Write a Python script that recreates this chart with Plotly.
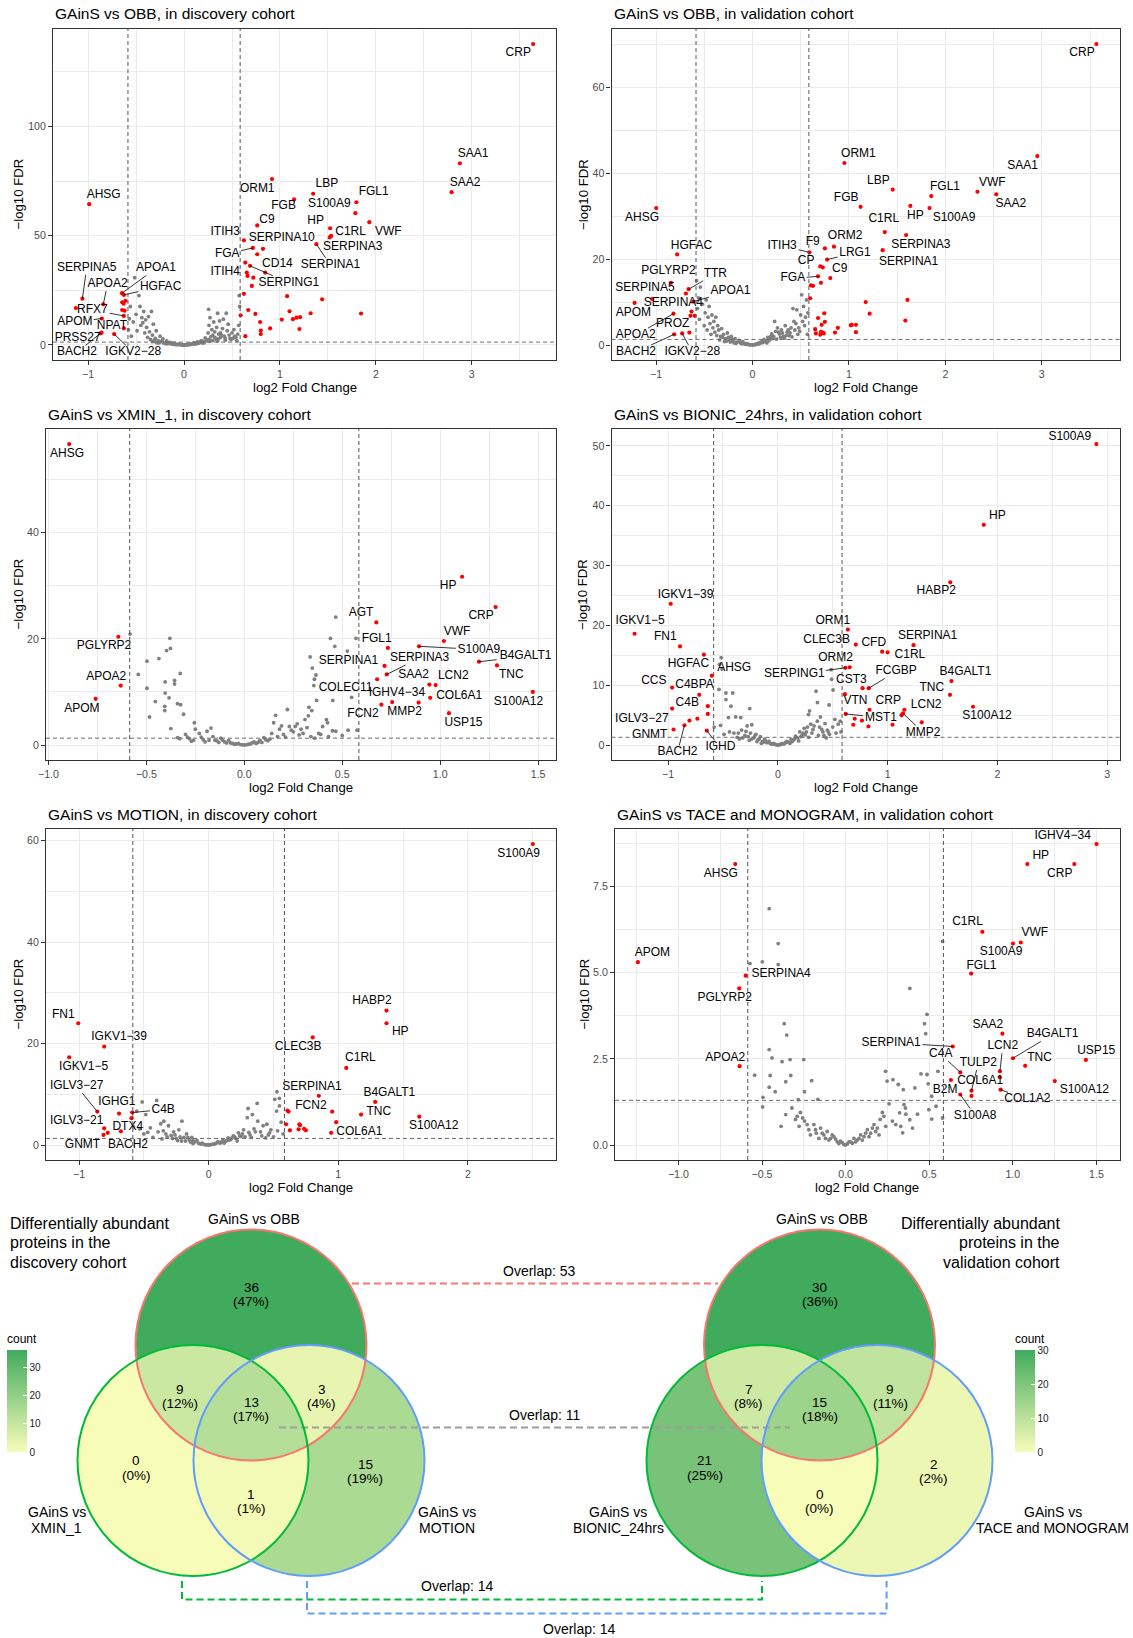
import numpy as np
import plotly.graph_objects as go

W, H = 1133, 1638
FONT = "Liberation Sans, Arial, Helvetica, sans-serif"
FC_CUT = 0.585      # log2(1.5)
FDR_CUT = 1.301     # -log10(0.05)

# ----------------------------------------------------------------- data
P1_TITLE = "GAinS vs OBB, in discovery cohort"
P1_GRAY = [(-0.58, 7.0), (-0.57, 12.0), (-0.56, 17.6), (-0.55, 4.0), (-0.53, 10.5), (-0.515, 30.8), (-0.50, 14.0),
           (-0.49, 6.5), (-0.47, 22.6), (-0.46, 17.6), (-0.45, 9.0), (-0.44, 12.5), (-0.43, 10.2), (-0.42, 15.3),
           (-0.41, 5.5), (-0.40, 11.5), (-0.39, 8.0), (-0.38, 3.5), (-0.37, 13.0), (-0.36, 6.0), (-0.35, 2.5),
           (-0.34, 15.3), (-0.33, 4.5), (-0.32, 9.5), (-0.30, 3.0), (-0.29, 6.5), (-0.27, 2.0), (-0.25, 4.0),
           (-0.24, 1.5), (-0.22, 2.8), (-0.20, 1.0), (-0.18, 1.8), (-0.16, 0.7), (-0.14, 1.2), (-0.12, 0.5),
           (-0.10, 0.8), (-0.08, 0.3), (-0.06, 0.4), (-0.04, 0.15), (-0.02, 0.05), (0.00, 0.0), (0.02, 0.1),
           (0.04, 0.2), (0.06, 0.5), (0.08, 0.4), (0.10, 0.9), (0.12, 0.7), (0.14, 1.4), (0.16, 1.1), (0.18, 2.0),
           (0.20, 1.6), (0.22, 3.2), (0.24, 2.4), (0.25, 5.5), (0.256, 16.3), (0.26, 9.0), (0.27, 12.5), (0.28, 3.8),
           (0.29, 7.0), (0.30, 4.5), (0.31, 10.5), (0.32, 6.0), (0.33, 3.0), (0.34, 8.0), (0.35, 14.5), (0.36, 5.0),
           (0.37, 11.0), (0.38, 3.5), (0.40, 7.5), (0.41, 11.8), (0.42, 4.0), (0.44, 14.5), (0.45, 6.5), (0.46, 9.5),
           (0.48, 3.0), (0.50, 5.5), (0.52, 7.0), (0.54, 3.5), (0.56, 5.0), (0.57, 9.0), (0.575, 22.6), (0.58, 17.6),
           (-0.28, 1.0), (-0.19, 0.6), (-0.11, 0.3), (0.11, 0.4), (0.19, 0.9), (0.27, 1.6), (0.35, 1.8), (0.43, 2.2),
           (-0.33, 1.5), (-0.31, 2.2), (-0.29, 1.2), (-0.26, 1.0), (-0.23, 1.8), (-0.21, 0.8), (-0.17, 0.5),
           (-0.15, 1.0), (-0.13, 0.4), (-0.09, 0.2), (-0.07, 0.15), (-0.05, 0.3), (-0.03, 0.05), (-0.01, 0.02),
           (0.01, 0.03), (0.03, 0.05), (0.05, 0.15), (0.07, 0.2), (0.09, 0.6), (0.13, 0.5), (0.15, 0.8),
           (0.17, 1.5), (0.21, 1.0), (0.23, 1.9), (0.26, 2.5), (0.28, 2.0), (0.30, 2.0), (0.32, 3.5), (0.34, 2.5),
           (0.36, 2.8), (0.38, 5.5), (0.39, 4.5), (0.43, 3.0), (0.47, 4.5), (0.49, 2.5), (0.51, 3.0), (0.53, 4.0),
           (0.55, 2.0)]
P1_RED = [(3.64, 137.7), (2.876, 83.1), (2.79, 69.9), (0.917, 75.9), (1.346, 69.2), (1.147, 66.6), (1.797, 65.3),
          (1.786, 60.3), (0.763, 54.7), (1.932, 56.2), (1.523, 53.4), (1.534, 49.9), (1.519, 49.2), (0.624, 47.9),
          (0.823, 44.0), (0.718, 44.4), (0.763, 41.5), (1.38, 46.1), (0.639, 37.7), (0.688, 36.2), (0.654, 33.1),
          (0.662, 31.6), (0.846, 33.1), (0.722, 30.8), (0.707, 27.0), (0.624, 23.4), (1.075, 22.3), (1.44, 20.9),
          (0.59, 13.6), (0.669, 16.0), (0.744, 14.2), (1.10, 15.4), (1.32, 14.5), (1.846, 14.4), (0.793, 10.5),
          (1.019, 11.6), (1.135, 11.8), (1.173, 12.5), (1.21, 12.7), (1.203, 7.3), (0.898, 7.6), (0.80, 6.6),
          (0.80, 5.0), (0.639, 4.0), (-0.989, 64.4), (-1.06, 21.2), (-1.128, 16.9), (-0.842, 18.6), (-0.647, 23.7),
          (-0.628, 22.9), (-0.61, 20.2), (-0.645, 19.5), (-0.63, 18.9), (-0.645, 16.0), (-0.62, 15.7),
          (-0.628, 13.3), (-0.857, 12.1), (-0.872, 5.3), (-0.86, 5.6), (-0.729, 5.0), (-0.628, 7.6)]
P1_LABELS = [("CRP", 3.485, 133.6), ("SAA1", 3.015, 87.2), ("SAA2", 2.93, 74.0), ("ORM1", 0.763, 71.5),
             ("LBP", 1.489, 73.6), ("FGB", 1.038, 63.4), ("FGL1", 1.977, 69.8), ("S100A9", 1.515, 64.7),
             ("C9", 0.865, 57.3), ("HP", 1.372, 56.9), ("C1RL", 1.737, 51.9), ("VWF", 2.13, 51.9),
             ("ITIH3", 0.429, 51.9), ("SERPINA10", 1.019, 49.0), ("FGA", 0.451, 41.7), ("SERPINA3", 1.759, 44.7),
             ("SERPINA1", 1.526, 36.6), ("CD14", 0.974, 36.9), ("ITIH4", 0.429, 33.6), ("SERPING1", 1.094, 28.5),
             ("AHSG", -0.838, 68.4), ("SERPINA5", -1.015, 35.4), ("APOA1", -0.293, 35.0), ("APOA2", -0.797, 27.9),
             ("HGFAC", -0.244, 26.7), ("RFX7", -0.955, 16.0), ("APOM", -1.139, 10.5), ("NPAT", -0.752, 8.7),
             ("PRSS27", -1.109, 3.4), ("BACH2", -1.117, -3.4), ("IGKV2−28", -0.53, -3.4)]
P1_SEGS = {"FGA": (0.718, 44.4), "SERPINA1": (1.38, 46.1), "SERPING1": (0.688, 36.2), "SERPINA5": (-1.06, 21.2),
           "APOA1": (-0.647, 23.7), "APOA2": (-0.842, 18.6), "HGFAC": (-0.628, 22.9), "RFX7": (-0.628, 13.3),
           "APOM": (-0.857, 12.1), "BACH2": (-0.872, 5.3), "IGKV2−28": (-0.729, 5.0)}

P2_TITLE = "GAinS vs OBB, in validation cohort"
P2_GRAY = [(-0.58, 15.0), (-0.57, 8.5), (-0.56, 11.0), (-0.55, 6.0), (-0.54, 13.5), (-0.52, 9.5), (-0.50, 4.5),
           (-0.49, 7.5), (-0.48, 10.5), (-0.47, 3.5), (-0.46, 6.5), (-0.45, 9.0), (-0.44, 5.0), (-0.43, 2.5),
           (-0.42, 7.0), (-0.41, 4.0), (-0.40, 5.5), (-0.39, 3.0), (-0.38, 6.5), (-0.37, 2.2), (-0.36, 4.5),
           (-0.35, 3.5), (-0.33, 2.0), (-0.32, 3.8), (-0.30, 2.5), (-0.28, 1.5), (-0.26, 2.8), (-0.24, 1.2),
           (-0.22, 2.0), (-0.20, 0.9), (-0.18, 1.5), (-0.16, 0.7), (-0.14, 1.1), (-0.12, 0.5), (-0.10, 0.8),
           (-0.08, 0.3), (-0.06, 0.35), (-0.04, 0.15), (-0.02, 0.05), (0.00, 0.02), (0.02, 0.1), (0.04, 0.25),
           (0.06, 0.45), (0.08, 0.6), (0.10, 0.9), (0.12, 1.3), (0.14, 0.9), (0.16, 1.8), (0.18, 1.3), (0.20, 2.6),
           (0.22, 2.0), (0.23, 5.5), (0.24, 3.2), (0.26, 4.0), (0.28, 2.6), (0.30, 3.5), (0.32, 2.0), (0.34, 4.5),
           (0.36, 3.0), (0.38, 2.2), (0.40, 4.0), (0.42, 8.5), (0.43, 5.5), (0.44, 3.5), (0.45, 5.0), (0.46, 8.2),
           (0.48, 4.0), (0.50, 7.0), (0.51, 11.7), (0.52, 5.5), (0.53, 9.0), (0.54, 4.5), (0.55, 6.5), (0.56, 10.5),
           (0.57, 2.5), (0.575, 7.5), (-0.27, 0.9), (-0.19, 0.5), (0.15, 0.5), (0.25, 1.4), (0.33, 1.6), (0.41, 1.9),
           (-0.34, 1.2), (-0.31, 1.8), (-0.29, 0.8), (-0.25, 1.8), (-0.23, 0.7), (-0.21, 1.3), (-0.17, 0.4),
           (-0.13, 0.7), (-0.11, 0.3), (-0.07, 0.15), (-0.05, 0.2), (-0.03, 0.05), (0.01, 0.03), (0.03, 0.08),
           (0.05, 0.2), (0.07, 0.3), (0.09, 0.5), (0.11, 0.6), (0.13, 0.9), (0.17, 1.0), (0.19, 2.0), (0.21, 1.5),
           (0.27, 3.0), (0.29, 1.8), (0.31, 2.8), (0.35, 2.2), (0.37, 3.5), (0.39, 2.8), (0.47, 2.5), (0.49, 3.2)]
P2_RED = [(3.566, 70.1), (2.953, 44.0), (0.953, 42.4), (1.454, 36.2), (2.333, 35.7), (2.527, 35.1), (1.854, 34.7),
          (1.637, 32.4), (1.836, 31.9), (1.121, 32.2), (-0.998, 31.9), (1.372, 26.3), (1.593, 25.6), (0.845, 22.9),
          (0.751, 22.5), (1.35, 22.1), (0.591, 21.6), (-0.781, 21.1), (0.774, 19.9), (0.703, 18.3), (0.729, 18.1),
          (0.807, 15.6), (0.68, 16.0), (0.606, 13.9), (0.628, 13.8), (0.71, 14.5), (-0.845, 14.5), (-0.662, 13.0),
          (-0.69, 12.0), (-1.039, 10.7), (-1.222, 9.8), (0.598, 10.9), (-0.613, 10.1), (1.174, 10.0), (1.607, 10.5),
          (-0.632, 7.8), (-0.819, 7.3), (-0.643, 6.8), (-0.60, 6.8), (0.744, 7.4), (1.215, 7.3), (0.68, 6.3),
          (1.585, 5.7), (0.751, 5.4), (0.718, 4.7), (1.03, 4.7), (1.02, 4.6), (1.073, 4.7), (0.886, 4.0),
          (0.65, 3.7), (0.71, 3.1), (0.729, 2.9), (0.74, 2.7), (0.658, 2.7), (0.703, 2.4), (0.856, 2.9),
          (1.073, 3.0), (-0.811, 2.5), (-0.729, 2.7), (-0.654, 2.9)]
P2_LABELS = [("CRP", 3.417, 68.0), ("SAA1", 2.80, 41.8), ("ORM1", 1.099, 44.5), ("LBP", 1.305, 38.2),
             ("VWF", 2.486, 37.8), ("SAA2", 2.68, 32.9), ("FGL1", 1.996, 36.8), ("HP", 1.69, 30.1),
             ("S100A9", 2.09, 29.6), ("FGB", 0.972, 34.3), ("AHSG", -1.144, 29.7), ("C1RL", 1.361, 29.4),
             ("SERPINA3", 1.746, 23.3), ("ORM2", 0.961, 25.4), ("SERPINA1", 1.619, 19.4), ("F9", 0.624, 23.9),
             ("ITIH3", 0.307, 23.1), ("LRG1", 1.062, 21.5), ("CP", 0.557, 19.5), ("C9", 0.905, 17.8),
             ("FGA", 0.419, 15.5), ("HGFAC", -0.632, 23.1), ("PGLYRP2", -0.871, 17.3), ("TTR", -0.385, 16.6),
             ("SERPINA5", -1.114, 13.4), ("APOA1", -0.228, 12.6), ("SERPINA4", -0.82, 9.8), ("APOM", -1.234, 7.5),
             ("PROZ", -0.826, 4.8), ("APOA2", -1.211, 2.3), ("BACH2", -1.207, -1.6), ("IGKV2−28", -0.624, -1.6)]
P2_SEGS = {"ITIH3": (0.591, 21.6), "LRG1": (0.774, 19.9), "FGA": (0.68, 16.0), "TTR": (-0.662, 13.0),
           "APOA1": (-0.613, 10.1), "APOA2": (-0.819, 7.3), "BACH2": (-0.811, 2.5), "IGKV2−28": (-0.729, 2.7)}

P3_TITLE = "GAinS vs XMIN_1, in discovery cohort"
P3_GRAY = [(-0.583, 20.9), (-0.541, 13.3), (-0.497, 15.8), (-0.497, 10.7), (-0.484, 5.3), (-0.454, 8.2),
           (-0.436, 16.3), (-0.404, 11.9), (-0.404, 9.8), (-0.406, 7.3), (-0.406, 6.5), (-0.397, 17.8),
           (-0.384, 8.9), (-0.38, 20.1), (-0.377, 18.2), (-0.375, 3.1), (-0.356, 12.2), (-0.356, 11.5),
           (-0.341, 7.8), (-0.34, 1.4), (-0.327, 13.5), (-0.325, 7.6), (-0.31, 5.8), (-0.30, 2.0), (-0.28, 1.2),
           (-0.255, 4.2), (-0.25, 3.0), (-0.23, 2.2), (-0.21, 1.0), (-0.19, 2.6), (-0.17, 3.2), (-0.16, 1.6),
           (-0.14, 0.8), (-0.12, 1.3), (-0.10, 0.6), (-0.08, 0.9), (-0.06, 0.3), (-0.04, 0.2), (-0.02, 0.1),
           (0.0, 0.02), (0.02, 0.15), (0.04, 0.4), (0.06, 0.3), (0.08, 0.9), (0.10, 1.4), (0.12, 0.8), (0.14, 2.2),
           (0.15, 4.2), (0.16, 5.6), (0.18, 3.0), (0.20, 2.0), (0.22, 6.7), (0.23, 3.5), (0.25, 2.5), (0.27, 4.0),
           (0.29, 3.0), (0.31, 4.8), (0.327, 5.5), (0.33, 7.1), (0.336, 16.6), (0.345, 6.5), (0.347, 14.5),
           (0.355, 11.2), (0.358, 12.4), (0.366, 13.2), (0.369, 8.4), (0.38, 2.2), (0.40, 3.5), (0.419, 4.8),
           (0.425, 4.2), (0.44, 20.1), (0.452, 8.4), (0.462, 18.6), (0.467, 24.1), (0.467, 2.6), (0.50, 1.8),
           (0.526, 17.7), (0.53, 2.8), (0.548, 9.0), (0.57, 20.1), (0.576, 2.8), (-0.27, 0.7), (-0.18, 0.9),
           (-0.09, 0.4), (0.07, 0.5), (0.13, 1.1), (0.21, 1.5), (0.28, 1.9), (0.36, 1.3),
           (-0.33, 1.2), (-0.29, 1.5), (-0.26, 0.9), (-0.22, 1.5), (-0.20, 0.6), (-0.15, 0.9), (-0.13, 0.5),
           (-0.11, 0.9), (-0.07, 0.4), (-0.05, 0.15), (-0.03, 0.3), (-0.01, 0.05), (0.01, 0.05), (0.03, 0.2),
           (0.05, 0.6), (0.09, 0.5), (0.11, 1.0), (0.17, 1.6), (0.19, 3.6), (0.24, 2.8), (0.26, 3.5), (0.30, 2.2),
           (0.32, 3.3), (0.34, 1.6), (0.39, 2.0), (0.43, 1.6), (0.45, 2.7)]
P3_RED = [(-0.894, 56.7), (1.112, 31.7), (1.283, 26.0), (0.674, 23.1), (-0.643, 20.4), (1.019, 19.6), (0.892, 18.6),
          (0.733, 18.3), (1.198, 15.7), (1.29, 15.0), (0.716, 14.9), (0.727, 13.3), (0.678, 12.4), (0.945, 11.4),
          (0.977, 11.3), (-0.631, 11.2), (1.473, 10.0), (-0.759, 8.7), (0.949, 8.9), (0.755, 8.1), (0.89, 8.0),
          (0.70, 7.6), (1.045, 6.0)]
P3_LABELS = [("AHSG", -0.905, 54.9), ("HP", 1.041, 29.9), ("CRP", 1.209, 24.3), ("AGT", 0.596, 24.8),
             ("PGLYRP2", -0.716, 18.6), ("VWF", 1.086, 21.3), ("S100A9", 1.198, 18.0), ("FGL1", 0.676, 19.9),
             ("B4GALT1", 1.436, 16.7), ("TNC", 1.363, 13.2), ("SERPINA1", 0.532, 15.8), ("SERPINA3", 0.895, 16.4),
             ("SAA2", 0.864, 13.2), ("LCN2", 1.067, 13.0), ("APOA2", -0.705, 12.9), ("S100A12", 1.40, 8.2),
             ("APOM", -0.829, 6.8), ("COL6A1", 1.097, 9.3), ("MMP2", 0.818, 6.2), ("IGHV4−34", 0.779, 9.8),
             ("COLEC11", 0.517, 10.7), ("FCN2", 0.606, 5.8), ("USP15", 1.119, 4.2)]
P3_SEGS = {"S100A9": (0.892, 18.6), "B4GALT1": (1.198, 15.7), "SERPINA3": (0.727, 13.3)}

P4_TITLE = "GAinS vs BIONIC_24hrs, in validation cohort"
P4_GRAY = [(-0.58, 3.0), (-0.536, 9.3), (-0.532, 13.5), (-0.522, 3.3), (-0.516, 14.6), (-0.509, 12.7), (-0.49, 1.8),
           (-0.473, 8.7), (-0.473, 7.6), (-0.45, 4.6), (-0.44, 2.2), (-0.427, 6.5), (-0.411, 8.7), (-0.40, 2.0),
           (-0.384, 4.7), (-0.37, 1.3), (-0.338, 4.6), (-0.33, 2.5), (-0.30, 1.6), (-0.28, 3.2), (-0.256, 6.1),
           (-0.25, 2.0), (-0.237, 3.4), (-0.22, 1.2), (-0.20, 1.8), (-0.18, 0.9), (-0.16, 1.4), (-0.14, 0.6),
           (-0.12, 1.0), (-0.10, 0.4), (-0.08, 0.6), (-0.06, 0.2), (-0.04, 0.3), (-0.02, 0.08), (0.0, 0.02),
           (0.02, 0.1), (0.04, 0.3), (0.06, 0.25), (0.08, 0.6), (0.10, 0.5), (0.12, 1.0), (0.14, 0.8), (0.16, 1.5),
           (0.18, 1.2), (0.20, 2.2), (0.22, 1.6), (0.24, 2.8), (0.26, 2.2), (0.279, 5.1), (0.289, 5.7), (0.30, 3.5),
           (0.32, 2.6), (0.348, 9.0), (0.36, 4.0), (0.361, 7.1), (0.38, 3.0), (0.388, 4.7), (0.41, 2.2), (0.43, 3.6),
           (0.45, 2.5), (0.467, 6.7), (0.47, 1.8), (0.486, 12.6), (0.49, 11.0), (0.50, 3.0), (0.503, 9.2),
           (0.519, 4.3), (0.53, 2.0), (0.55, 3.5), (0.569, 4.0), (0.575, 2.2), (-0.35, 1.0), (-0.26, 0.8),
           (-0.15, 0.3), (0.11, 0.3), (0.19, 0.7), (0.28, 1.3), (0.37, 1.6), (0.44, 1.2),
           (-0.36, 2.0), (-0.32, 1.2), (-0.29, 2.3), (-0.27, 1.4), (-0.24, 1.0), (-0.21, 1.5), (-0.19, 0.6),
           (-0.17, 1.0), (-0.13, 0.5), (-0.11, 0.7), (-0.07, 0.3), (-0.05, 0.15), (-0.03, 0.2), (-0.01, 0.04),
           (0.01, 0.05), (0.03, 0.15), (0.05, 0.2), (0.07, 0.4), (0.09, 0.5), (0.13, 0.6), (0.15, 1.0), (0.17, 1.3),
           (0.21, 1.4), (0.23, 2.0), (0.25, 1.7), (0.27, 3.0), (0.31, 2.0), (0.33, 3.2), (0.40, 2.6), (0.42, 1.6),
           (0.46, 2.2)]
P4_RED = [(2.902, 50.3), (1.876, 36.8), (1.571, 27.2), (-0.976, 23.6), (0.638, 19.3), (-1.305, 18.6), (0.71, 16.8),
          (-0.891, 16.5), (1.236, 16.7), (-0.674, 15.1), (0.95, 15.6), (1.0, 15.5), (0.654, 13.0), (0.615, 12.9),
          (-0.601, 11.6), (1.581, 10.7), (-0.963, 9.6), (0.772, 9.5), (0.828, 9.5), (-0.716, 8.4), (1.568, 8.4),
          (0.611, 8.5), (-0.638, 6.5), (1.778, 6.4), (0.835, 5.9), (-0.963, 6.1), (1.153, 5.9), (1.14, 5.3),
          (1.127, 5.0), (0.618, 5.2), (-0.638, 5.2), (0.70, 4.4), (0.766, 4.1), (-0.733, 4.4), (-0.805, 4.1),
          (1.311, 3.8), (0.687, 3.4), (1.045, 3.4), (0.825, 3.1), (-0.851, 3.3), (-0.95, 2.6), (-0.647, 2.4)]
P4_LABELS = [("S100A9", 2.659, 51.4), ("HP", 2.0, 38.3), ("HABP2", 1.443, 25.7), ("IGKV1−39", -0.841, 25.1),
             ("ORM1", 0.50, 20.8), ("IGKV1−5", -1.255, 20.8), ("CLEC3B", 0.444, 17.6), ("FN1", -1.025, 18.0),
             ("SERPINA1", 1.364, 18.2), ("CFD", 0.874, 17.1), ("HGFAC", -0.815, 13.5), ("C1RL", 1.203, 15.0),
             ("ORM2", 0.526, 14.5), ("AHSG", -0.398, 12.8), ("SERPING1", 0.151, 11.8), ("B4GALT1", 1.709, 12.2),
             ("CCS", -1.13, 10.7), ("CST3", 0.67, 10.9), ("FCGBP", 1.078, 12.3), ("C4BPA", -0.759, 10.0),
             ("TNC", 1.403, 9.5), ("VTN", 0.707, 7.3), ("CRP", 1.006, 7.3), ("C4B", -0.825, 7.1),
             ("LCN2", 1.351, 6.7), ("S100A12", 1.906, 4.8), ("MST1", 0.94, 4.6), ("IGLV3−27", -1.239, 4.3),
             ("MMP2", 1.324, 2.1), ("GNMT", -1.167, 1.7), ("BACH2", -0.914, -1.2), ("IGHD", -0.523, -0.4)]
P4_SEGS = {"SERPING1": (0.615, 12.9), "FCGBP": (0.828, 9.5), "MST1": (0.618, 5.2), "MMP2": (1.14, 5.3),
           "BACH2": (-0.851, 3.3), "IGHD": (-0.647, 2.4)}

P5_TITLE = "GAinS vs MOTION, in discovery cohort"
P5_GRAY = [(-0.58, 3.6), (-0.555, 6.7), (-0.532, 3.2), (-0.513, 8.5), (-0.50, 2.2), (-0.485, 6.0), (-0.47, 2.5),
           (-0.45, 3.4), (-0.43, 1.5), (-0.401, 8.8), (-0.39, 2.6), (-0.37, 4.2), (-0.346, 4.7), (-0.33, 2.2),
           (-0.31, 3.8), (-0.29, 1.9), (-0.27, 2.6), (-0.25, 1.3), (-0.23, 3.0), (-0.206, 4.7), (-0.19, 1.5),
           (-0.17, 2.2), (-0.15, 1.0), (-0.13, 1.5), (-0.11, 0.6), (-0.09, 0.9), (-0.07, 0.3), (-0.05, 0.4),
           (-0.03, 0.1), (-0.01, 0.05), (0.01, 0.05), (0.03, 0.2), (0.05, 0.3), (0.07, 0.6), (0.09, 0.4),
           (0.11, 1.0), (0.13, 0.7), (0.15, 1.4), (0.17, 1.1), (0.19, 1.8), (0.21, 1.3), (0.23, 2.4), (0.25, 1.7),
           (0.27, 3.0), (0.298, 5.4), (0.304, 7.2), (0.31, 2.5), (0.337, 6.0), (0.35, 3.2), (0.374, 8.2),
           (0.379, 4.7), (0.40, 2.6), (0.42, 3.8), (0.449, 4.1), (0.46, 2.0), (0.48, 3.0), (0.50, 1.6), (0.51, 9.0),
           (0.524, 6.7), (0.527, 10.5), (0.532, 2.8), (0.546, 9.2), (0.546, 7.7), (0.56, 4.5), (0.575, 2.2),
           (-0.36, 1.2), (-0.21, 0.8), (-0.12, 0.3), (0.12, 0.4), (0.22, 0.8), (0.33, 1.5), (0.44, 1.4),
           (-0.35, 2.8), (-0.32, 1.6), (-0.28, 1.3), (-0.26, 2.0), (-0.24, 0.9), (-0.22, 1.6), (-0.18, 0.8),
           (-0.16, 1.5), (-0.14, 0.6), (-0.12, 0.9), (-0.08, 0.4), (-0.06, 0.2), (-0.04, 0.2), (-0.02, 0.05),
           (0.0, 0.02), (0.02, 0.1), (0.04, 0.15), (0.06, 0.4), (0.08, 0.5), (0.10, 0.6), (0.14, 0.9), (0.16, 1.0),
           (0.18, 1.4), (0.20, 1.6), (0.24, 1.8), (0.26, 2.2), (0.28, 1.6), (0.32, 2.0), (0.36, 2.6), (0.41, 1.8),
           (0.47, 2.4)]
P5_RED = [(2.501, 59.3), (1.372, 26.5), (1.372, 24.0), (-1.006, 24.0), (0.803, 21.2), (-0.806, 19.4), (-1.076, 17.3),
          (1.062, 15.2), (0.85, 9.7), (1.285, 8.5), (-0.859, 6.6), (0.608, 6.8), (0.616, 6.6), (0.953, 6.6),
          (-0.691, 6.2), (1.176, 6.0), (-0.59, 6.4), (1.625, 5.6), (-0.595, 5.3), (0.984, 4.5), (0.597, 4.1),
          (0.70, 4.1), (0.705, 3.9), (-0.806, 3.3), (-0.677, 2.7), (-0.778, 2.4), (-0.811, 2.0), (0.694, 3.1),
          (0.736, 3.2), (0.75, 2.9), (0.627, 2.9), (0.945, 2.4)]
P5_LABELS = [("S100A9", 2.392, 57.3), ("HABP2", 1.26, 28.3), ("HP", 1.478, 22.3), ("FN1", -1.121, 25.7),
             ("CLEC3B", 0.691, 19.3), ("IGKV1−39", -0.691, 21.3), ("IGKV1−5", -0.965, 15.4), ("C1RL", 1.171, 17.1),
             ("SERPINA1", 0.797, 11.4), ("B4GALT1", 1.394, 10.2), ("IGLV3−27", -1.018, 11.6), ("FCN2", 0.789, 7.6),
             ("IGHG1", -0.708, 8.5), ("TNC", 1.313, 6.5), ("C4B", -0.351, 7.0), ("S100A12", 1.737, 3.7),
             ("IGLV3−21", -1.018, 4.7), ("DTX4", -0.624, 3.5), ("COL6A1", 1.163, 2.6), ("GNMT", -0.973, 0.1),
             ("BACH2", -0.622, 0.1)]
P5_SEGS = {"IGLV3−27": (-0.859, 6.6), "C4B": (-0.59, 6.4)}

P6_TITLE = "GAinS vs TACE and MONOGRAM, in validation cohort"
P6_GRAY = [(-0.572, 5.26), (-0.544, 2.03), (-0.498, 5.31), (-0.496, 1.11), (-0.494, 1.39), (-0.457, 6.85),
           (-0.457, 2.77), (-0.457, 1.68), (-0.451, 2.02), (-0.44, 2.53), (-0.421, 1.55), (-0.403, 5.84),
           (-0.403, 5.23), (-0.386, 0.55), (-0.38, 2.42), (-0.367, 3.52), (-0.358, 1.84), (-0.358, 0.89),
           (-0.352, 3.19), (-0.332, 2.48), (-0.328, 2.02), (-0.321, 1.08), (-0.30, 0.75), (-0.289, 0.84),
           (-0.283, 1.32), (-0.278, 0.55), (-0.257, 0.79), (-0.25, 2.48), (-0.246, 1.55), (-0.246, 0.70),
           (-0.22, 0.45), (-0.203, 1.87), (-0.19, 0.6), (-0.175, 0.35), (-0.166, 1.33), (-0.15, 0.5), (-0.13, 0.3),
           (-0.11, 0.4), (-0.09, 0.2), (-0.07, 0.25), (-0.05, 0.1), (-0.03, 0.12), (-0.01, 0.02), (0.01, 0.04),
           (0.03, 0.1), (0.05, 0.2), (0.07, 0.15), (0.09, 0.3), (0.11, 0.25), (0.13, 0.45), (0.15, 0.35),
           (0.17, 0.6), (0.19, 0.5), (0.207, 0.75), (0.22, 0.95), (0.229, 0.84), (0.239, 2.14), (0.248, 1.86),
           (0.26, 1.2), (0.283, 1.90), (0.30, 0.6), (0.315, 1.76), (0.323, 0.94), (0.341, 0.36), (0.345, 1.61),
           (0.349, 1.18), (0.358, 1.08), (0.384, 4.54), (0.384, 0.74), (0.40, 0.5), (0.414, 1.66), (0.43, 0.9),
           (0.451, 2.07), (0.472, 3.52), (0.479, 3.23), (0.487, 3.79), (0.487, 2.05), (0.494, 1.78), (0.498, 1.03),
           (0.515, 1.42), (0.515, 0.76), (0.541, 1.13), (0.552, 2.14), (0.58, 5.90), (0.58, 0.79),
           (-0.27, 0.95), (-0.12, 0.2), (-0.06, 0.18), (0.04, 0.06), (0.08, 0.2), (0.12, 0.35), (0.18, 0.4),
           (-0.23, 0.6), (-0.21, 0.3), (-0.18, 0.45), (-0.16, 0.2), (-0.14, 0.35), (-0.10, 0.15), (-0.08, 0.3),
           (-0.04, 0.05), (-0.02, 0.08), (0.0, 0.01), (0.02, 0.1), (0.06, 0.1), (0.10, 0.15), (0.14, 0.25),
           (0.16, 0.5), (0.20, 0.3), (0.24, 0.55), (0.28, 0.7), (0.33, 0.55), (0.36, 0.9)]
P6_RED = [(1.501, 8.72), (1.087, 8.14), (1.368, 8.14), (-0.66, 8.14), (0.818, 6.18), (1.001, 5.84), (1.048, 5.87),
          (-1.242, 5.30), (0.751, 4.97), (-0.598, 4.91), (-0.636, 4.54), (0.938, 3.23), (0.641, 2.86), (1.001, 2.52),
          (1.437, 2.47), (-0.634, 2.29), (1.074, 2.30), (0.686, 2.11), (0.923, 2.14), (0.923, 1.97), (1.251, 1.86),
          (0.63, 1.89), (0.753, 1.58), (0.927, 1.61), (0.753, 1.43), (0.686, 1.47)]
P6_LABELS = [("IGHV4−34", 1.298, 8.94), ("HP", 1.167, 8.38), ("CRP", 1.281, 7.86), ("AHSG", -0.746, 7.86),
             ("C1RL", 0.729, 6.47), ("VWF", 1.132, 6.15), ("S100A9", 0.93, 5.60), ("APOM", -1.156, 5.57),
             ("FGL1", 0.813, 5.19), ("SERPINA4", -0.386, 4.95), ("PGLYRP2", -0.723, 4.27), ("SAA2", 0.85, 3.49),
             ("SERPINA1", 0.272, 2.97), ("B4GALT1", 1.238, 3.21), ("USP15", 1.499, 2.72), ("APOA2", -0.72, 2.54),
             ("TNC", 1.16, 2.53), ("C4A", 0.569, 2.64), ("LCN2", 0.94, 2.87), ("S100A12", 1.428, 1.59),
             ("TULP2", 0.794, 2.38), ("COL6A1", 0.805, 1.85), ("B2M", 0.595, 1.61), ("COL1A2", 1.087, 1.33),
             ("S100A8", 0.774, 0.86)]
P6_SEGS = {"SERPINA1": (0.641, 2.86), "B4GALT1": (1.001, 2.52), "C4A": (0.686, 2.11), "LCN2": (0.923, 2.14),
           "TULP2": (0.753, 1.58), "S100A8": (0.686, 1.47), "COL1A2": (0.927, 1.61)}

# Venn diagram data: regions A only, A&B, A&B&C, A&C, B only, C only, B&C
REGION_KEYS = [(1, 0, 0), (1, 1, 0), (1, 1, 1), (1, 0, 1), (0, 1, 0), (0, 0, 1), (0, 1, 1)]
DISC_SETS = ["GAinS vs OBB", "GAinS vs|XMIN_1", "GAinS vs|MOTION"]
DISC_COUNTS = [36, 9, 13, 3, 0, 15, 1]
VALID_SETS = ["GAinS vs OBB", "GAinS vs|BIONIC_24hrs", "GAinS vs|TACE and MONOGRAM"]
VALID_COUNTS = [30, 7, 15, 9, 21, 2, 0]
OVERLAPS = [53, 11, 14, 14]
DISC_TITLE = ["Differentially abundant", "proteins in the", "discovery cohort"]
VALID_TITLE = ["Differentially abundant", "proteins in the", "validation cohort"]

# ----------------------------------------------------------------- layout constants
BOXES = {1: (53, 556, 29, 360), 2: (611.5, 1119.5, 29, 360), 3: (46, 556, 429, 760),
         4: (611.5, 1119.5, 429, 760), 5: (46, 556, 829, 1160), 6: (615, 1119.5, 829, 1160)}
YT_OFF = {1: 35, 2: 28, 3: 28, 4: 29, 5: 28, 6: 31}
MINUS = "\u2212"


def tl(v, dec=0):
    s = f"{abs(v):.{dec}f}"
    return (MINUS + s) if v < 0 else s


TICKS = {
    1: dict(x=[-1, 0, 1, 2, 3], xd=0, xm=[-0.5, 0.5, 1.5, 2.5, 3.5], y=[0, 50, 100], yd=0, ym=[25, 75, 125]),
    2: dict(x=[-1, 0, 1, 2, 3], xd=0, xm=[-0.5, 0.5, 1.5, 2.5, 3.5], y=[0, 20, 40, 60], yd=0, ym=[10, 30, 50, 70]),
    3: dict(x=[-1, -0.5, 0, 0.5, 1, 1.5], xd=1, xm=[-0.75, -0.25, 0.25, 0.75, 1.25], y=[0, 20, 40], yd=0,
            ym=[10, 30, 50]),
    4: dict(x=[-1, 0, 1, 2, 3], xd=0, xm=[-0.5, 0.5, 1.5, 2.5], y=[0, 10, 20, 30, 40, 50], yd=0,
            ym=[5, 15, 25, 35, 45]),
    5: dict(x=[-1, 0, 1, 2], xd=0, xm=[-0.5, 0.5, 1.5, 2.5], y=[0, 20, 40, 60], yd=0, ym=[10, 30, 50]),
    6: dict(x=[-1, -0.5, 0, 0.5, 1, 1.5], xd=1, xm=[-1.25, -0.75, -0.25, 0.25, 0.75, 1.25], y=[0, 2.5, 5, 7.5],
            yd=1, ym=[1.25, 3.75, 6.25, 8.75]),
}

PANELS = [
    dict(title=P1_TITLE, gray=P1_GRAY, red=P1_RED, labels=P1_LABELS, segs=P1_SEGS),
    dict(title=P2_TITLE, gray=P2_GRAY, red=P2_RED, labels=P2_LABELS, segs=P2_SEGS),
    dict(title=P3_TITLE, gray=P3_GRAY, red=P3_RED, labels=P3_LABELS, segs=P3_SEGS),
    dict(title=P4_TITLE, gray=P4_GRAY, red=P4_RED, labels=P4_LABELS, segs=P4_SEGS),
    dict(title=P5_TITLE, gray=P5_GRAY, red=P5_RED, labels=P5_LABELS, segs=P5_SEGS),
    dict(title=P6_TITLE, gray=P6_GRAY, red=P6_RED, labels=P6_LABELS, segs=P6_SEGS),
]

CW = {"I": 0.278, "J": 0.5, "M": 0.833, "W": 0.944, MINUS: 0.584, "-": 0.333}
LABEL_SIZE = 12


def text_w(s, size):
    w = 0.0
    for ch in s:
        if ch in CW:
            w += CW[ch]
        elif ch.isdigit():
            w += 0.556
        elif ch.isupper():
            w += 0.69
        else:
            w += 0.5
    return w * size


fig = go.Figure()
annotations = []
shapes = []
layout_axes = {}


def ann(x, y, text, size, xref="paper", yref="paper", xanchor="center", yanchor="middle", angle=0,
        color="black"):
    annotations.append(dict(x=x, y=y, xref=xref, yref=yref, text=text, showarrow=False, xanchor=xanchor,
                            yanchor=yanchor, textangle=angle,
                            font=dict(family=FONT, size=size, color=color)))


GRID = "#EBEBEB"
BORDER = "#333333"

for i, pan in enumerate(PANELS, start=1):
    s = "" if i == 1 else str(i)
    L, R, T, B = BOXES[i]
    pts = pan["gray"] + pan["red"]
    xs = [p[0] for p in pts]
    ys = [p[1] for p in pts]
    xr = [min(xs) - 0.05 * (max(xs) - min(xs)), max(xs) + 0.05 * (max(xs) - min(xs))]
    yr = [min(ys) - 0.05 * (max(ys) - min(ys)), max(ys) + 0.05 * (max(ys) - min(ys))]

    fig.add_trace(go.Scatter(x=[p[0] for p in pan["gray"]], y=[p[1] for p in pan["gray"]], mode="markers",
                             marker=dict(size=3.8, color="#808080", line=dict(width=0)),
                             xaxis="x" + s, yaxis="y" + s, hoverinfo="skip", showlegend=False))
    fig.add_trace(go.Scatter(x=[p[0] for p in pan["red"]], y=[p[1] for p in pan["red"]], mode="markers",
                             marker=dict(size=4.2, color="#FF0000", line=dict(width=0)),
                             xaxis="x" + s, yaxis="y" + s, hoverinfo="skip", showlegend=False))

    # label segments (clipped at label box edge)
    sx = (R - L) / (xr[1] - xr[0])
    sy = (B - T) / (yr[1] - yr[0])
    segx, segy = [], []
    for name, tx, ty in pan["labels"]:
        if name not in pan["segs"]:
            continue
        px_, py_ = pan["segs"][name]
        dx = (px_ - tx) * sx
        dy = (py_ - ty) * sy
        hw = text_w(name, LABEL_SIZE) / 2 + 1.5
        hh = 7.0
        t = min(hw / abs(dx) if dx else 1e9, hh / abs(dy) if dy else 1e9)
        if t >= 1:
            continue
        segx += [tx + t * (px_ - tx), px_, None]
        segy += [ty + t * (py_ - ty), py_, None]
    fig.add_trace(go.Scatter(x=segx, y=segy, mode="lines", line=dict(color="black", width=0.8),
                             xaxis="x" + s, yaxis="y" + s, hoverinfo="skip", showlegend=False))
    fig.add_trace(go.Scatter(x=[l[1] for l in pan["labels"]], y=[l[2] for l in pan["labels"]],
                             text=[l[0] for l in pan["labels"]], mode="text",
                             textfont=dict(family=FONT, size=LABEL_SIZE, color="black"),
                             textposition="middle center", cliponaxis=False,
                             xaxis="x" + s, yaxis="y" + s, hoverinfo="skip", showlegend=False))

    tk = TICKS[i]
    common = dict(showline=True, mirror=True, linecolor=BORDER, linewidth=1.1, ticks="outside", ticklen=4,
                  tickcolor=BORDER, tickwidth=1.0, tickfont=dict(family=FONT, size=10.6, color="#4D4D4D"),
                  showgrid=True, gridcolor=GRID, gridwidth=1.1, zeroline=False, fixedrange=True,
                  tickmode="array")
    layout_axes["xaxis" + s] = dict(common, domain=[L / W, R / W], anchor="y" + s, range=xr,
                                    tickvals=tk["x"], ticktext=[tl(v, tk["xd"]) for v in tk["x"]],
                                    minor=dict(tickmode="array", tickvals=tk["xm"], showgrid=True,
                                               gridcolor=GRID, gridwidth=0.55))
    layout_axes["yaxis" + s] = dict(common, domain=[1 - B / H, 1 - T / H], anchor="x" + s, range=yr,
                                    tickvals=tk["y"], ticktext=[tl(v, tk["yd"]) for v in tk["y"]],
                                    minor=dict(tickmode="array", tickvals=tk["ym"], showgrid=True,
                                               gridcolor=GRID, gridwidth=0.55))
    # threshold lines
    for xv in (-FC_CUT, FC_CUT):
        shapes.append(dict(type="line", xref="x" + s, yref="y" + s + " domain", x0=xv, x1=xv, y0=0, y1=1,
                           line=dict(color="#555555", width=1, dash="4px,3px"), layer="above"))
    shapes.append(dict(type="line", xref="x" + s + " domain", yref="y" + s, x0=0, x1=1, y0=FDR_CUT, y1=FDR_CUT,
                       line=dict(color="#6E6E6E", width=1, dash="4px,3px"), layer="above"))
    # titles
    ann(L / W, 1 - (T - 15) / H, pan["title"], 15.5, xanchor="left")
    ann(((L + R) / 2) / W, 1 - (B + 27) / H, "log2 Fold Change", 13.2)
    ann((L - YT_OFF[i]) / W, 1 - ((T + B) / 2) / H, "\u2212log10 FDR", 13.2, angle=-90)

# ----------------------------------------------------------------- Venn diagrams
VX = "x7"
VY = "y7"
VTOP = 1190
layout_axes["xaxis7"] = dict(domain=[0, 1], anchor="y7", range=[0, W], visible=False, fixedrange=True)
layout_axes["yaxis7"] = dict(domain=[0, 1 - VTOP / H], anchor="x7", range=[H, VTOP], visible=False,
                             fixedrange=True)

VENN_R = 115.5
DISC_CENTERS = [(251, 1345), (193, 1460.5), (309, 1460.5)]
VALID_CENTERS = [(819.5, 1345), (762, 1460.5), (877, 1460.5)]
# label offsets (px) of each region relative to the top circle's centre, same order as REGION_KEYS
REGION_OFFSETS = [(0, -50.5), (-71, 51.5), (0, 64.5), (70.5, 51.5), (-115, 123), (114, 126.5), (0, 156.5)]
SET_COLORS = ["#F8766D", "#00BA38", "#619CFF"]
DISC_SETLAB = [(253.8, 1219), (56.7, 1520), (447, 1520)]
VALID_SETLAB = [(821.6, 1219), (618.3, 1520), (1052.7, 1520)]
CSCALE = [[0, "#F7FCB9"], [1, "#41AB5D"]]


def venn(centers, counts, sets, setlab, cbar_x):
    total = sum(counts)
    xs = np.arange(min(c[0] for c in centers) - VENN_R - 2, max(c[0] for c in centers) + VENN_R + 3, 1.0)
    ys = np.arange(min(c[1] for c in centers) - VENN_R - 2, max(c[1] for c in centers) + VENN_R + 3, 1.0)
    X, Y = np.meshgrid(xs, ys)
    ins = [((X - cx) ** 2 + (Y - cy) ** 2) <= VENN_R ** 2 for cx, cy in centers]
    Z = np.full(X.shape, np.nan)
    for key, cnt in zip(REGION_KEYS, counts):
        m = np.ones(X.shape, bool)
        for flag, inside in zip(key, ins):
            m &= inside if flag else ~inside
        Z[m] = cnt
    zl = [[None if np.isnan(v) else float(v) for v in row] for row in Z]
    fig.add_trace(go.Heatmap(x=xs, y=ys, z=zl, colorscale=CSCALE, zmin=0, zmax=max(counts), xaxis=VX, yaxis=VY,
                             hoverinfo="skip", zsmooth=False,
                             colorbar=dict(x=cbar_x / W, xanchor="left", y=1 - 1452 / H, yanchor="bottom",
                                           len=121, lenmode="pixels", thickness=20, thicknessmode="pixels",
                                           outlinewidth=0, tickvals=[0, 10, 20, 30], ticks="inside", ticklen=4,
                                           tickcolor="white", tickwidth=1,
                                           tickfont=dict(family=FONT, size=10, color="#222222"),
                                           title=dict(text="count", side="top",
                                                      font=dict(family=FONT, size=12, color="black")),
                                           xpad=0, ypad=0)))
    for (cx, cy), col in zip(centers, SET_COLORS):
        shapes.append(dict(type="circle", xref=VX, yref=VY, x0=cx - VENN_R, x1=cx + VENN_R, y0=cy - VENN_R,
                           y1=cy + VENN_R, line=dict(color=col, width=2), layer="above"))
    ox, oy = centers[0]
    for (dx, dy), cnt in zip(REGION_OFFSETS, counts):
        ann(ox + dx, oy + dy - 7.2, str(cnt), 13.5, xref=VX, yref=VY)
        ann(ox + dx, oy + dy + 7.2, f"({round(100 * cnt / total)}%)", 13.5, xref=VX, yref=VY)
    for name, (lx, ly) in zip(sets, setlab):
        lines = name.split("|")
        n = len(lines)
        for k, line in enumerate(lines):
            ann(lx, ly + (k - (n - 1) / 2) * 16.6, line, 14, xref=VX, yref=VY)


venn(DISC_CENTERS, DISC_COUNTS, DISC_SETS, DISC_SETLAB, 7)
venn(VALID_CENTERS, VALID_COUNTS, VALID_SETS, VALID_SETLAB, 1015)

for k, line in enumerate(DISC_TITLE):
    ann(8, 1223.3 + k * 19.4, line, 16, xref=VX, yref=VY, xanchor="left")
for k, line in enumerate(VALID_TITLE):
    ann(1062, 1223.3 + k * 19.4, line, 16, xref=VX, yref=VY, xanchor="right")

# overlap connectors between the two Venn diagrams
CONNECTORS = [
    (dict(x=[352, 718], y=[1283.5, 1283.5]), "#F8766D", (539, 1271)),
    (dict(x=[279, 790], y=[1427.5, 1427.5]), "#9E9E9E", (544.5, 1415)),
    (dict(x=[182, 182, 762, 762], y=[1581, 1599.5, 1599.5, 1581]), "#00BA38", (457, 1585.5)),
    (dict(x=[307, 307, 886.6, 886.6], y=[1581, 1613.5, 1613.5, 1581]), "#619CFF", (579.5, 1628.5)),
]
for (path, col, (tx, ty)), n in zip(CONNECTORS, OVERLAPS):
    fig.add_trace(go.Scatter(x=path["x"], y=path["y"], mode="lines", line=dict(color=col, width=2,
                                                                                dash="7px,4px"),
                             xaxis=VX, yaxis=VY, hoverinfo="skip", showlegend=False))
    ann(tx, ty, f"Overlap: {n}", 14, xref=VX, yref=VY)

fig.update_layout(width=W, height=H, margin=dict(l=0, r=0, t=0, b=0, autoexpand=False), paper_bgcolor="white",
                  plot_bgcolor="white", showlegend=False, annotations=annotations, shapes=shapes,
                  font=dict(family=FONT), **layout_axes)
fig.write_html("out.html", config={"displayModeBar": False})
